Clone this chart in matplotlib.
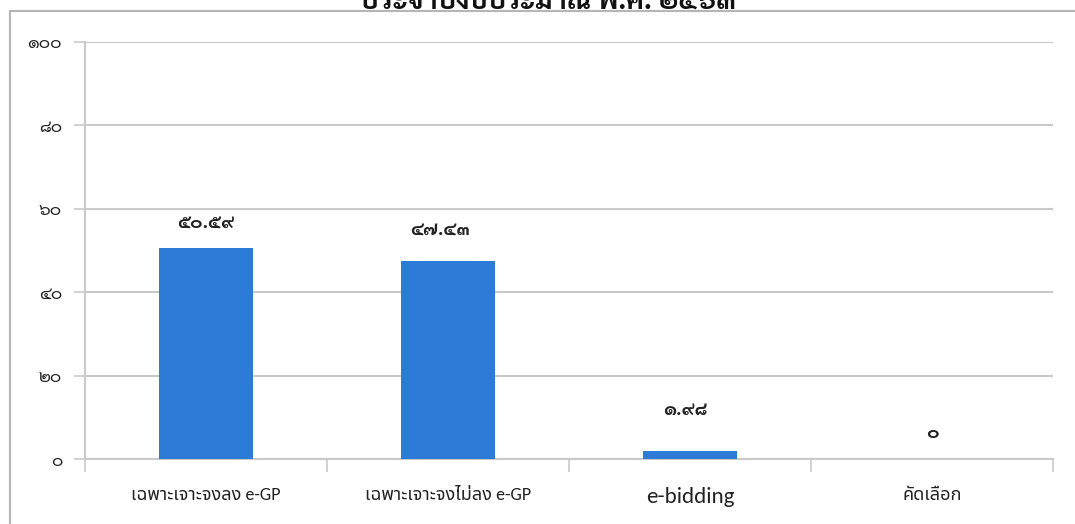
import matplotlib
matplotlib.use("Agg")
import matplotlib.pyplot as plt
from matplotlib import font_manager
from matplotlib.lines import Line2D

# ข้อมูลจากภาพ
categories = ["เฉพาะเจาะจงลง e-GP", "เฉพาะเจาะจงไม่ลง e-GP", "e-bidding", "คัดเลือก"]
values = [50.59, 47.43, 1.98, 0]
y_ticks = [0, 20, 40, 60, 80, 100]
title = "ประจำปีงบประมาณ พ.ศ. ๒๕๖๓"

# ตำแหน่งป้ายค่า (จุด) เลื่อนจากยอดแท่ง
label_dx = [0, -6, -3, 0]
label_dy = [18, 23, 29, 19]

THAI_DIGITS = str.maketrans("0123456789", "๐๑๒๓๔๕๖๗๘๙")


def thai_num(s):
    return str(s).translate(THAI_DIGITS)


def pick(*names):
    have = {f.name for f in font_manager.fontManager.ttflist}
    for n in names:
        if n in have:
            return n
    return "DejaVu Sans"


thai_font = pick("Noto Sans Thai", "Kanit", "Prompt", "Sarabun")
digit_font = pick("Sarabun", "Chakra Petch", "Bai Jamjuree", "Noto Sans Thai")
latin_font = pick("Carlito", "Open Sans", "Noto Sans")
fam = [latin_font, thai_font, "DejaVu Sans"]
plt.rcParams["font.family"] = fam

grid_col = "#c9c9c9"
bar_col = "#2b7bd7"

fig = plt.figure(figsize=(10.75, 5.24), dpi=100)
ax = fig.add_axes([85 / 1075, 1 - 459 / 524, 968 / 1075, 417 / 524])

x = list(range(len(categories)))
bars = ax.bar(x, values, width=0.39, color=bar_col, zorder=3)

for i, (b, v) in enumerate(zip(bars, values)):
    txt = thai_num(f"{v:.2f}") if v != 0 else thai_num("0")
    ax.annotate(txt, (b.get_x() + b.get_width() / 2, v),
                xytext=(label_dx[i], label_dy[i]), textcoords="offset points",
                ha="center", va="center", fontsize=13.5, fontweight="bold",
                family=[digit_font], color="#222222")

ax.set_xlim(-0.5, len(categories) - 0.5)
ax.set_ylim(0, 100)
ax.set_yticks(y_ticks)
ax.set_yticklabels([thai_num(t) for t in y_ticks], family=[digit_font],
                   fontsize=12.5, color="#222222")
ax.yaxis.grid(True, color=grid_col, linewidth=1.5, zorder=0)

ax.set_xticks(x)
ax.set_xticklabels(categories, fontsize=13, color="#222222")
ax.get_xticklabels()[2].set_fontsize(16.5)
ax.tick_params(axis="x", which="major", length=0, pad=20)
ax.set_xticks([i - 0.5 for i in range(len(categories) + 1)], minor=True)
ax.tick_params(axis="x", which="minor", length=9, color=grid_col, width=1.2)
ax.tick_params(axis="y", length=8, color=grid_col, width=1.2, pad=8.5)

for s in ["top", "right"]:
    ax.spines[s].set_visible(False)
for s in ["left", "bottom"]:
    ax.spines[s].set_color(grid_col)
    ax.spines[s].set_linewidth(1.5)

# กรอบนอกของแผนภูมิ
fig.add_artist(Line2D([10 / 1075, 10 / 1075], [0, 1 - 11 / 524],
                      transform=fig.transFigure, color="#b5b5b5", lw=1.5))
fig.add_artist(Line2D([10 / 1075, 1], [1 - 11 / 524, 1 - 11 / 524],
                      transform=fig.transFigure, color="#b5b5b5", lw=1.5))

fig.text(548 / 1075, 1 - 1 / 524, title, ha="center", va="center",
         fontsize=20, fontweight="bold", family=[digit_font], color="#111111")

fig.savefig("out.png", dpi=100)
